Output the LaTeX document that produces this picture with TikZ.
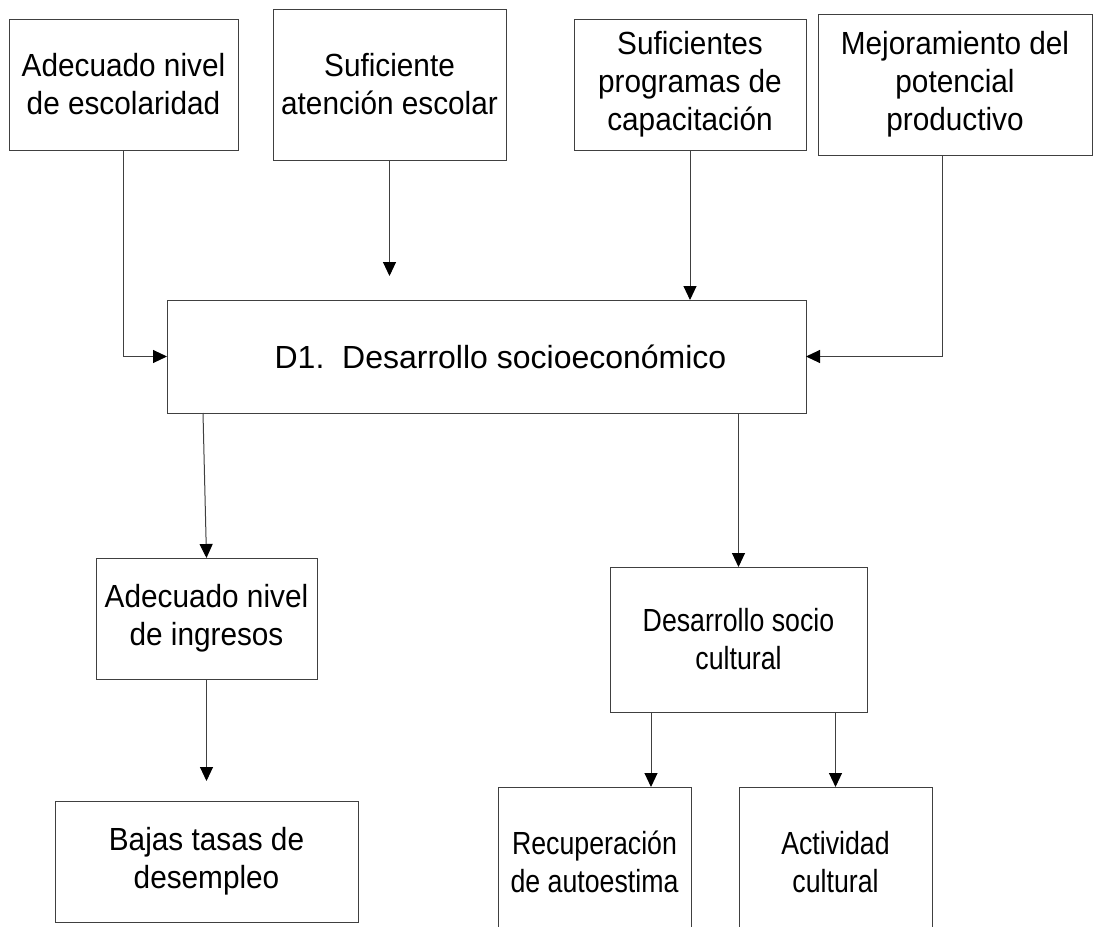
\documentclass[tikz,border=0pt]{standalone}
\usepackage{fontspec}
\setmainfont{Liberation Sans}
\newfontfamily\mainboxfont[FakeStretch=0.93]{Liberation Sans}
\newfontfamily\narrowfont[FakeStretch=0.835]{Liberation Sans}
\usetikzlibrary{arrows.meta,calc}
\tikzset{
  box/.style={draw=black!75, line width=1pt, anchor=north west, inner sep=0pt, outer sep=0pt,
    align=center, font=\mainboxfont\fontsize{32}{38}\selectfont},
  nbox/.style={box, font=\narrowfont\fontsize{32}{38}\selectfont},
  wbox/.style={box, font=\fontsize{32}{38}\selectfont},
  arr/.style={draw=black!75, line width=1pt, -{Triangle[length=14pt,width=13pt,color=black]}},
}
\begin{document}
\begin{tikzpicture}[x=1pt,y=-1pt]
\useasboundingbox (0,0) rectangle (1094,926);
\fill[white] (0,0) rectangle (1094,926);
\begin{scope}
\clip (0,0) rectangle (1094,926);
\node[box, minimum width=229pt, minimum height=131pt] (A) at (9,19) {Adecuado nivel\\de escolaridad};
\node[box, minimum width=233pt, minimum height=151pt] (B) at (273,9) {Suficiente\\atención escolar};
\node[box, minimum width=232pt, minimum height=131pt] (C) at (574,19) {Suficientes\\programas de\\capacitación};
\node[box, minimum width=274pt, minimum height=141pt] (E) at (818,14) {Mejoramiento del\\potencial\\productivo};
\node[wbox, minimum width=639pt, minimum height=113pt] (D) at (167,300) {\hspace*{28pt}D1.\ \ Desarrollo socioeconómico};
\node[box, minimum width=221pt, minimum height=121pt] (F) at (96,558) {Adecuado nivel\\de ingresos};
\node[box, minimum width=303pt, minimum height=121pt] (G) at (55,801) {Bajas tasas de\\desempleo};
\node[nbox, minimum width=257pt, minimum height=145pt] (H) at (610,567) {Desarrollo socio\\cultural};
\node[nbox, minimum width=193pt, minimum height=150pt] (I) at (498,787) {Recuperación\\de autoestima};
\node[nbox, minimum width=193pt, minimum height=150pt] (J) at (739,787) {Actividad\\cultural};

\coordinate (Bend) at ($(B.south)+(0,116)$);
\coordinate (Fend) at ($(F.south)+(0,102)$);

\draw[arr] (A.south) |- (D.west);
\draw[arr] (B.south) -- (Bend);
\draw[arr] (C.south) -- (C.south |- D.north);
\draw[arr] ([xshift=-13pt]E.south) |- (D.east);
\draw[arr] ([xshift=36pt]D.south west) -- (F.north);
\draw[arr] (F.south) -- (Fend);
\draw[arr] (H.north |- D.south) -- (H.north);
\draw[arr] ([xshift=41pt]H.south west) -- ([xshift=41pt]H.south west |- I.north);
\draw[arr] (J.north |- H.south) -- (J.north);
\end{scope}
\end{tikzpicture}
\end{document}
